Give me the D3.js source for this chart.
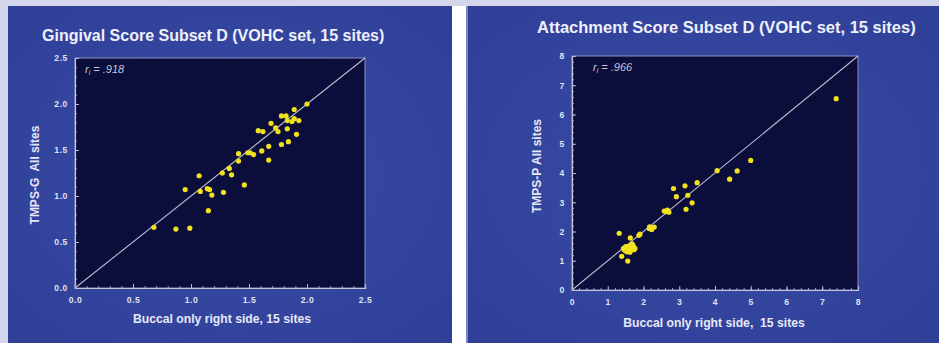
<!DOCTYPE html>
<html><head><meta charset="utf-8">
<script src="https://cdn.jsdelivr.net/npm/d3@7"></script>
<style>
html,body{margin:0;padding:0;background:#d4d7eb;}
svg{display:block;font-family:"Liberation Sans",Arial,sans-serif;}
</style></head>
<body>
<svg id="c" width="939" height="343"></svg>
<script>
// ---- data ----
const gingivalX = [0.68,0.87,0.99,0.95,1.07,1.08,1.14,1.16,1.18,1.15,1.28,1.27,1.33,1.35,1.46,1.41,1.41,1.49,1.51,1.54,1.61,1.67,1.67,1.58,1.62,1.69,1.73,1.75,1.78,1.84,1.83,1.91,1.78,1.82,1.83,1.87,1.89,1.89,1.93,2.00];
const gingivalY = [0.66,0.64,0.65,1.07,1.22,1.05,1.08,1.07,1.01,0.84,1.04,1.25,1.30,1.23,1.12,1.46,1.38,1.47,1.47,1.45,1.49,1.39,1.54,1.71,1.70,1.79,1.74,1.70,1.56,1.59,1.73,1.67,1.87,1.87,1.82,1.81,1.84,1.94,1.82,2.00];
const attachX = [1.32,1.63,1.39,1.56,1.44,1.50,1.58,1.65,1.71,1.76,1.53,1.62,1.47,1.68,1.60,1.73,1.87,1.90,2.16,2.23,2.30,2.17,2.58,2.67,2.71,2.63,2.84,2.92,3.16,3.24,3.19,3.36,3.50,4.06,4.41,4.62,5.00,7.39];
const attachY = [1.94,1.78,1.15,0.99,1.42,1.48,1.40,1.44,1.52,1.42,1.31,1.29,1.36,1.58,1.50,1.38,1.87,1.91,2.10,2.07,2.15,2.16,2.70,2.73,2.66,2.68,3.47,3.19,3.56,3.24,2.76,2.98,3.67,4.08,3.79,4.07,4.43,6.54];
const gingivalTicks = [0,0.5,1.0,1.5,2.0,2.5];
const attachTicks = [0,1,2,3,4,5,6,7,8];
const titles = ["Gingival Score Subset D (VOHC set, 15 sites)","Attachment Score Subset D (VOHC set, 15 sites)"];
const xLabels = ["Buccal only right side, 15 sites","Buccal only right side,\u00a0 15 sites"];
const yLabels = ["TMPS-G\u00a0 All sites","TMPS-P All sites"];
const rValues = [".918",".966"];

const svg = d3.select("#c");
const defs = svg.append("defs");
const grad = defs.append("radialGradient").attr("id","pg").attr("cx","50%").attr("cy","50%").attr("r","70%");
grad.append("stop").attr("offset","0%").attr("stop-color","#3a4ca6");
grad.append("stop").attr("offset","100%").attr("stop-color","#2f3f98");

// background panels
svg.append("rect").attr("x",0).attr("y",0).attr("width",939).attr("height",343).attr("fill","#d4d7eb");
svg.append("rect").attr("x",8).attr("y",6).attr("width",444).attr("height",337).attr("fill","url(#pg)");
svg.append("rect").attr("x",452).attr("y",6).attr("width",14).attr("height",337).attr("fill","#ffffff");
svg.append("rect").attr("x",466).attr("y",6).attr("width",2).attr("height",337).attr("fill","#7a82c4");
svg.append("rect").attr("x",468).attr("y",6).attr("width",471).attr("height",337).attr("fill","url(#pg)");

const panels = [
  {xs:gingivalX, ys:gingivalY, ticks:gingivalTicks, fmt:d3.format(".1f"), minor:0.1,
   L:75,R:365,T:58,B:288, title:titles[0], tx:42, ty:40.5, tfs:16,
   xl:xLabels[0], xlx:222, xly:323, yl:yLabels[0], ylx:39, yly:175, r:rValues[0], rx:85, ry:72.5},
  {xs:attachX, ys:attachY, ticks:attachTicks, fmt:d3.format("d"), minor:0.2,
   L:572,R:858,T:56,B:290, title:titles[1], tx:537, ty:33, tfs:16.5,
   xl:xLabels[1], xlx:714, xly:327, yl:yLabels[1], ylx:541, yly:166, r:rValues[1], rx:593, ry:70.5}
];

panels.forEach(p=>{
  const max = p.ticks[p.ticks.length-1];
  const x = d3.scaleLinear().domain([0,max]).range([p.L,p.R]);
  const y = d3.scaleLinear().domain([0,max]).range([p.B,p.T]);
  const g = svg.append("g");
  g.append("rect").attr("x",p.L).attr("y",p.T).attr("width",p.R-p.L).attr("height",p.B-p.T)
    .attr("fill","#0b0d3b").attr("stroke","#8c92c4").attr("stroke-width",1);

  const minorVals = d3.range(0,max+1e-9,p.minor);
  // minor ticks
  g.append("g").attr("transform",`translate(0,${p.B})`)
    .call(d3.axisBottom(x).tickValues(minorVals).tickSize(-2).tickFormat(""))
    .call(a=>{a.select(".domain").remove();a.selectAll("line").attr("stroke","#9aa0c8");});
  g.append("g").attr("transform",`translate(${p.L},0)`)
    .call(d3.axisLeft(y).tickValues(minorVals).tickSize(-2).tickFormat(""))
    .call(a=>{a.select(".domain").remove();a.selectAll("line").attr("stroke","#9aa0c8");});
  // major
  const xa = g.append("g").attr("transform",`translate(0,${p.B})`)
    .call(d3.axisBottom(x).tickValues(p.ticks).tickSize(-4).tickPadding(9).tickFormat(p.fmt));
  const ya = g.append("g").attr("transform",`translate(${p.L},0)`)
    .call(d3.axisLeft(y).tickValues(p.ticks).tickSize(-4).tickPadding(7).tickFormat(p.fmt));
  [xa,ya].forEach(a=>{
    a.select(".domain").attr("stroke","#c4c6d8").attr("stroke-width",1.2);
    a.selectAll("line").attr("stroke","#b8bcd8");
    a.selectAll("text").attr("fill","#dfe2f2").attr("font-size",8.6).attr("font-weight","bold")
      .attr("letter-spacing","0.6px").attr("font-family","'Liberation Sans',Arial,sans-serif");
  });

  // diagonal
  g.append("line").attr("x1",x(0)).attr("y1",y(0)).attr("x2",x(max)).attr("y2",y(max))
    .attr("stroke","#bcbdc9").attr("stroke-width",1.1);

  // points
  g.selectAll("circle.pt").data(d3.range(p.xs.length)).join("circle")
    .attr("cx",i=>x(p.xs[i])).attr("cy",i=>y(p.ys[i])).attr("r",2.6)
    .attr("fill","#f2e21e");

  // title
  svg.append("text").attr("x",p.tx).attr("y",p.ty).attr("fill","#eef0fa")
    .attr("font-size",p.tfs).attr("font-weight","bold").text(p.title);
  // x label
  svg.append("text").attr("x",p.xlx).attr("y",p.xly).attr("text-anchor","middle").attr("fill","#e6e8f6")
    .attr("font-size",12.2).attr("font-weight","bold").text(p.xl);
  // y label
  svg.append("text").attr("transform",`translate(${p.ylx},${p.yly}) rotate(-90)`).attr("text-anchor","middle")
    .attr("fill","#e6e8f6").attr("font-size",12).attr("font-weight","bold").text(p.yl);
  // r annotation
  const t = svg.append("text").attr("x",p.rx).attr("y",p.ry).attr("fill","#c6c9dc")
    .attr("font-size",11).attr("font-style","italic");
  t.append("tspan").text("r");
  t.append("tspan").attr("font-size",7).attr("dy",2).text("i");
  t.append("tspan").attr("dy",-2).text(" = " + p.r);
});
</script>
</body></html>
